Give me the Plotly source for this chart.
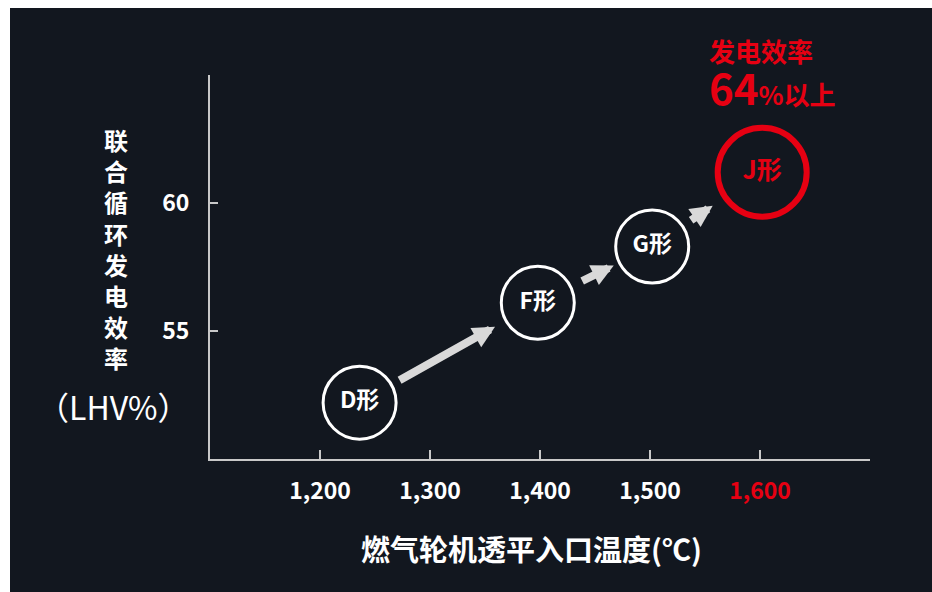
import plotly.graph_objects as go

# ---- data ----
models = ["D形", "F形", "G形", "J形"]
temps = [1236, 1398, 1502, 1602]          # turbine inlet temperature (°C)
eff = [52.2, 56.1, 58.3, 61.2]            # combined-cycle efficiency (LHV %)
xtick_vals = [1200, 1300, 1400, 1500, 1600]
xtick_text = ["1,200", "1,300", "1,400", "1,500", "1,600"]
ytick_vals = [55, 60]
ytick_text = ["55", "60"]
highlight_title = "发电效率"
highlight_value = "64"
highlight_suffix = "%以上"

# ---- style ----
BG = "#12171f"
WHITE = "#ffffff"
RED = "#e60012"
ARROW = "#d9d9d9"
AXIS = "#c8c8c8"
FONT = "Noto Sans CJK SC"
arrow_fracs = [(0.216, 0.76), (0.375, 0.664), (0.34, 0.55)]

is_hi = [i == len(models) - 1 for i in range(len(models))]

fig = go.Figure()
fig.add_trace(go.Scatter(
    x=temps, y=eff, mode="markers+text", text=models,
    textposition="middle center",
    textfont=dict(family=FONT, size=[25 if h else 23 for h in is_hi],
                  color=[RED if h else WHITE for h in is_hi], weight="bold"),
    marker=dict(size=[89 if h else 73 for h in is_hi], color=BG, opacity=1,
                line=dict(color=[RED if h else WHITE for h in is_hi],
                          width=[6 if h else 3 for h in is_hi])),
    hoverinfo="skip", showlegend=False, cliponaxis=False,
))

annotations = []
for i in range(len(temps) - 1):
    f0, f1 = arrow_fracs[i]
    x0 = temps[i] + f0 * (temps[i + 1] - temps[i])
    y0 = eff[i] + f0 * (eff[i + 1] - eff[i])
    x1 = temps[i] + f1 * (temps[i + 1] - temps[i])
    y1 = eff[i] + f1 * (eff[i + 1] - eff[i])
    annotations.append(dict(
        x=x1, y=y1, ax=x0, ay=y0, xref="x", yref="y", axref="x", ayref="y",
        text="", showarrow=True, arrowhead=2, arrowsize=0.55, arrowwidth=8,
        arrowcolor=ARROW, standoff=0, startstandoff=0))

ticktext_x = [f"<span style='color:{RED}'>{t}</span>" if v == xtick_vals[-1] else t
              for v, t in zip(xtick_vals, xtick_text)]

# y-axis title (vertical stacked) and unit
annotations.append(dict(
    text="<br>".join(list("联合循环发电效率")), xref="paper", yref="paper",
    x=-0.142, y=0.548, xanchor="center", yanchor="middle", showarrow=False,
    font=dict(family=FONT, size=24, color=WHITE, weight="bold")))
annotations.append(dict(
    text="（LHV%）", xref="paper", yref="paper",
    x=-0.146, y=0.138, xanchor="center", yanchor="middle", showarrow=False,
    font=dict(family=FONT, size=32, color=WHITE)))
# x-axis title
annotations.append(dict(
    text="燃气轮机透平入口温度(℃)", xref="paper", yref="paper",
    x=(531 - 210) / 660, y=-0.232, xanchor="center", yanchor="middle", showarrow=False,
    font=dict(family=FONT, size=29, color=WHITE, weight="bold")))
# highlight text
annotations.append(dict(
    text=highlight_title, xref="paper", yref="paper",
    x=(707 - 210) / 660, y=1.065, xanchor="left", yanchor="middle", showarrow=False,
    font=dict(family=FONT, size=26, color=RED, weight="bold")))
annotations.append(dict(
    text=f"<span style='font-size:42px'>{highlight_value}</span>{highlight_suffix}",
    xref="paper", yref="paper",
    x=(707 - 210) / 660, y=0.970, xanchor="left", yanchor="middle", showarrow=False,
    font=dict(family=FONT, size=26, color=RED, weight="bold")))

fig.update_layout(
    width=932, height=592,
    margin=dict(l=210, r=62, t=75, b=133, pad=0),
    paper_bgcolor=BG, plot_bgcolor=BG,
    annotations=annotations,
    shapes=[
        dict(type="rect", xref="paper", yref="paper", x0=-0.4, x1=(10 - 210) / 660,
             y0=-0.5, y1=1.3, fillcolor="white", line=dict(width=0), layer="below"),
        dict(type="rect", xref="paper", yref="paper", x0=-0.4, x1=1.2,
             y0=(459 - 8) / 384, y1=1.3, fillcolor="white", line=dict(width=0), layer="below"),
    ],
    xaxis=dict(range=[1100, 1700], showgrid=False, zeroline=False,
               showline=True, linecolor=AXIS, linewidth=2,
               ticks="inside", ticklen=9, tickwidth=1.5, tickcolor=AXIS,
               tickvals=xtick_vals, ticktext=ticktext_x, ticklabelstandoff=10,
               tickfont=dict(family=FONT, size=23, color=WHITE, weight="bold")),
    yaxis=dict(range=[50, 65], showgrid=False, zeroline=False,
               showline=True, linecolor=AXIS, linewidth=2,
               ticks="inside", ticklen=8, tickwidth=1.5, tickcolor=AXIS,
               tickvals=ytick_vals, ticktext=ytick_text, ticklabelstandoff=14,
               tickfont=dict(family=FONT, size=23, color=WHITE, weight="bold")),
)

fig.write_html("out.html")
